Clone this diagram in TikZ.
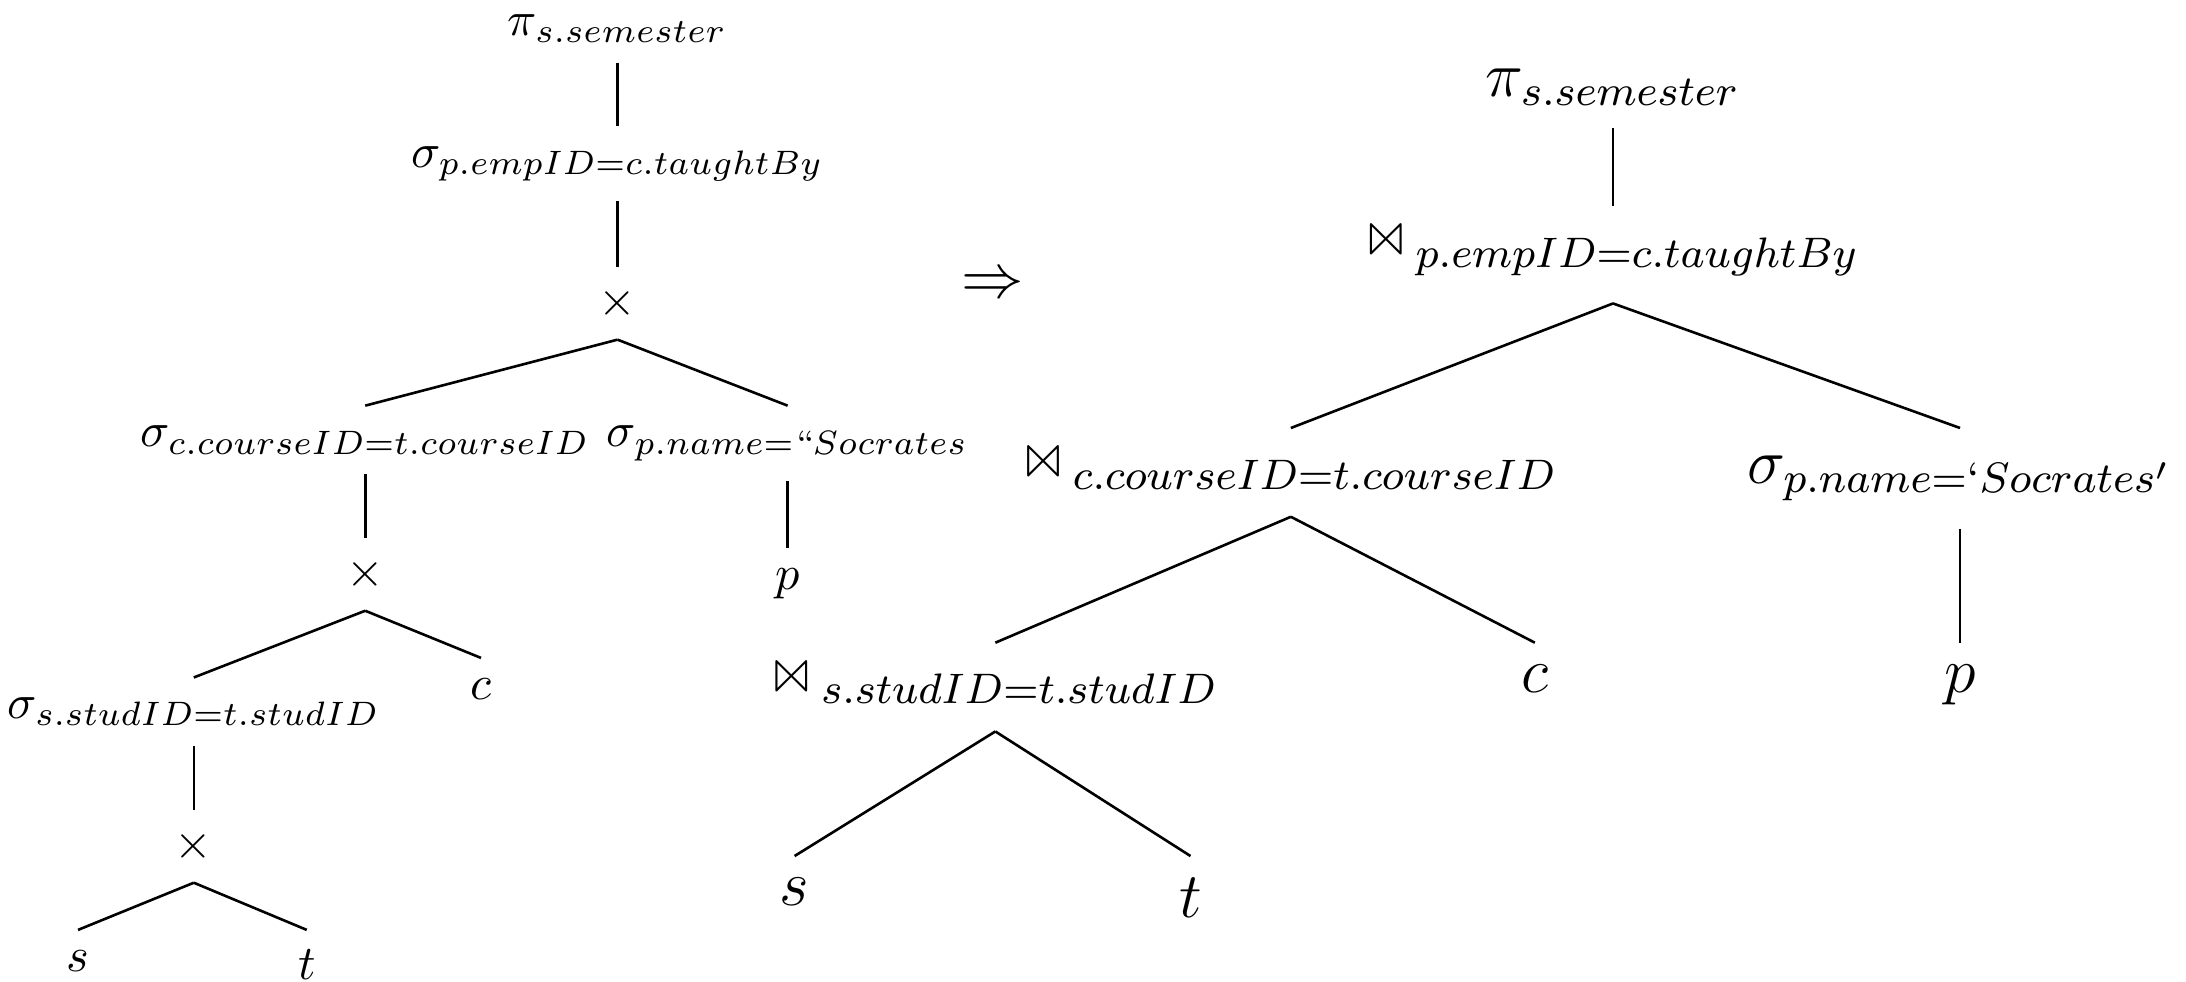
\documentclass[tikz,border=0pt]{standalone}
\usepackage{amsmath,latexsym}
\usetikzlibrary{positioning}

\newcommand{\joinop}{\text{\normalsize$\Join$}\,{}}

\begin{document}
\begin{tikzpicture}[
    op/.style={inner sep=4pt, scale=0.93},
    opl/.style={inner sep=4pt, font=\large, scale=1.025},
    opj/.style={opl, inner sep=5pt},
    edge/.style={line width=0.5pt}
]
\useasboundingbox (0,0) rectangle (14.765,6.629);

% left tree: selections over cross products
\node[op, anchor=south] (piL) at (4.171,6.205) {$\pi_{s.semester}$};
\node[op] (selE) at (4.171,5.523) {$\sigma_{p.empID=c.taughtBy}$};
\node[op] (crA) at (4.171,4.581) {$\times$};
\node[op, anchor=north] (selC) at (2.467,3.889) {$\sigma_{c.courseID=t.courseID}$};
\node[op, anchor=north] (selP) at (5.320,3.889) {$\sigma_{p.name=``Socrates}$};
\node[op] (crB) at (2.467,2.750) {$\times$};
\node[op, anchor=north] (pL) at (5.320,2.928) {$p$};
\node[op, anchor=north] (selS) at (1.309,2.053) {$\sigma_{s.studID=t.studID}$};
\node[op, anchor=north] (cL) at (3.249,2.185) {$c$};
\node[op] (crC) at (1.309,0.913) {$\times$};
\node[op, anchor=north] (sL) at (0.527,0.348) {$s$};
\node[op, anchor=north] (tL) at (2.072,0.348) {$t$};

\draw[edge] (piL.south) -- (selE.north);
\draw[edge] (selE.south) -- (crA.north);
\draw[edge] (crA.south) -- (selC.north);
\draw[edge] (crA.south) -- (selP.north);
\draw[edge] (selC.south) -- (crB.north);
\draw[edge] (selP.south) -- (pL.north);
\draw[edge] (crB.south) -- (selS.north);
\draw[edge] (crB.south) -- (cL.north);
\draw[edge] (selS.south) -- (crC.north);
\draw[edge] (crC.south) -- (sL.north);
\draw[edge] (crC.south) -- (tL.north);

\node[font=\large] (impl) at (6.704,4.699) {$\Rightarrow$};

% right tree: joins
\node[opl, anchor=south] (piR) at (10.895,5.763) {$\pi_{s.semester}$};
\node[opj, anchor=north] (joE) at (10.895,5.235) {$\joinop_{p.empID=c.taughtBy}$};
\node[opj, anchor=north] (joC) at (8.719,3.738) {$\joinop_{c.courseID=t.courseID}$};
\node[opj, anchor=north] (selR) at (13.239,3.738) {$\sigma_{p.name=`Socrates'}$};
\node[opj, anchor=north] (joS) at (6.723,2.288) {$\joinop_{s.studID=t.studID}$};
\node[opl, anchor=north] (cR) at (10.367,2.288) {$c$};
\node[opl, anchor=north] (pR) at (13.239,2.288) {$p$};
\node[opl, anchor=north] (sR) at (5.367,0.847) {$s$};
\node[opl, anchor=north] (tR) at (8.041,0.847) {$t$};

\draw[edge] (piR.south) -- (joE.north);
\draw[edge] (joE.south) -- (joC.north);
\draw[edge] (joE.south) -- (selR.north);
\draw[edge] (joC.south) -- (joS.north);
\draw[edge] (joC.south) -- (cR.north);
\draw[edge] (selR.south) -- (pR.north);
\draw[edge] (joS.south) -- (sR.north);
\draw[edge] (joS.south) -- (tR.north);

\end{tikzpicture}
\end{document}
